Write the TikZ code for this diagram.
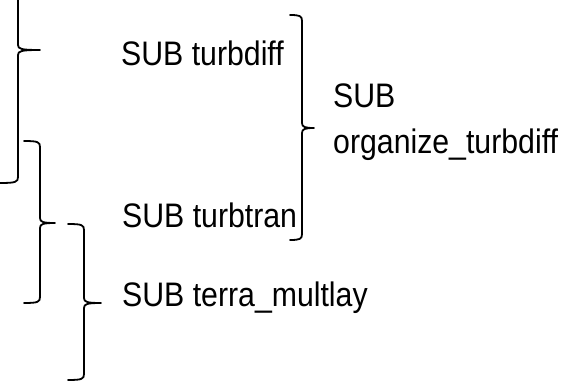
\documentclass[tikz,border=0pt]{standalone}
\usepackage{fontspec}
\setmainfont{Liberation Sans}[FakeStretch=0.89]
\begin{document}
\begin{tikzpicture}[x=1pt,y=-1pt,
  lbl/.style={anchor=base west,inner sep=0pt,font=\fontsize{34}{46}\selectfont},
  bracestroke/.style={line width=1.8pt,line join=round,line cap=round}]
\useasboundingbox (0,0) rectangle (568,382);
\clip (0,0) rectangle (568,382);
% right-pointing brace: #1 = x of spine, #2 = top, #3 = tip, #4 = bottom, #5 = hook length, #6 = tip length
\newcommand\rbr[6]{%
  \draw[bracestroke] (#1-#5,#2) .. controls (#1-2,#2) and (#1,#2+1) .. (#1,#2+6)
    -- (#1,#3-5) .. controls (#1,#3-1) and (#1+3,#3) .. (#1+#6,#3)
    .. controls (#1+3,#3) and (#1,#3+1) .. (#1,#3+5)
    -- (#1,#4-6) .. controls (#1,#4-1) and (#1-2,#4) .. (#1-#5,#4);}
% braces
\rbr{18}{-83}{50}{183}{18}{22}
\rbr{40}{141}{223}{303}{16}{15}
\rbr{84}{224}{303}{380}{16}{17}
\rbr{302}{15}{128}{240}{12}{12}
% labels
\node[lbl] (turbdiff) at (121,66) {SUB turbdiff};
\node[lbl] (turbtran) at (122,228) {SUB turbtran};
\node[lbl] (terra) at (122,306) {SUB terra\_multlay};
\node[lbl,align=left] (organize) at (333,154) {SUB\\organize\_turbdiff};
\end{tikzpicture}
\end{document}
